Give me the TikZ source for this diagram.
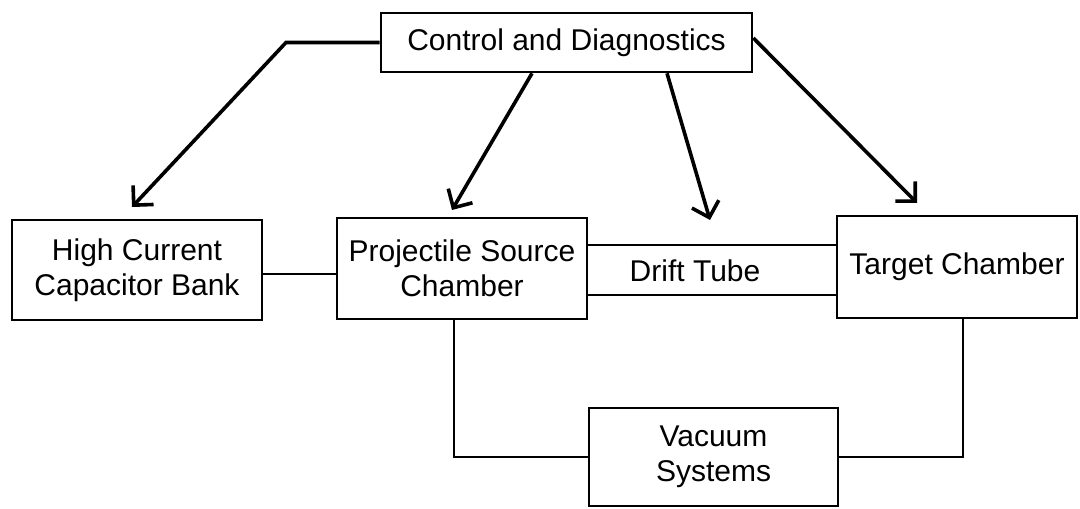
\documentclass[tikz,border=0pt]{standalone}
\usepackage{fontspec}
\setmainfont{Liberation Sans}
\usetikzlibrary{arrows.meta}
\begin{document}
\begin{tikzpicture}[x=0.5pt,y=-0.5pt,
  box/.style={draw, line width=1.3pt, inner sep=0pt, align=center, font=\fontsize{15}{17.5}\selectfont},
  lbl/.style={inner sep=0pt, font=\fontsize{15}{17.5}\selectfont},
  conn/.style={line width=1.3pt},
  arr/.style={line width=1.8pt, -{Straight Barb[length=7pt,width=14pt,line width=1.8pt]}}
]
\useasboundingbox (0,0) rectangle (1080,508);
% boxes
\node[box, minimum width=185.5pt, minimum height=29.5pt] (ctrl) at (566.5,42.5) {Control and Diagnostics};
\node[box, minimum width=125pt, minimum height=50pt] (cap) at (137,270) {High Current\\Capacitor Bank};
\node[box, minimum width=125pt, minimum height=50.5pt] (proj) at (462,268.5) {Projectile Source\\Chamber};
\node[box, minimum width=120pt, minimum height=51pt] (targ) at (957,267) {Target Chamber};
\node[box, minimum width=124.5pt, minimum height=49pt] (vac) at (713.5,457) {Vacuum\\Systems};
% helper coordinates
\coordinate (dtA) at (700,245);
\coordinate (dtB) at (700,295);
\coordinate (capy) at (300,274);
\coordinate (pv) at (454,0);
\coordinate (tv) at (963,0);
\coordinate (a1bend) at (286,44);
\coordinate (a1tip) at (132,207);
\coordinate (a2s) at (532,0);
\coordinate (a2tip) at (452,210);
\coordinate (a3s) at (667,0);
\coordinate (a3tip) at (710,220);
\coordinate (a4s) at (0,38);
\coordinate (a4tip) at (917,203);
% drift tube
\draw[conn] (proj.east |- dtA) -- (targ.west |- dtA);
\draw[conn] (proj.east |- dtB) -- (targ.west |- dtB);
\node[lbl] (dt) at (695,271) {Drift Tube};
% connections
\draw[conn] (cap.east |- capy) -- (proj.west |- capy);
\draw[conn] (proj.south -| pv) |- (vac.west);
\draw[conn] (targ.south -| tv) |- (vac.east);
% arrows
\draw[arr] (ctrl.west) -- (a1bend |- ctrl.west) -- (a1tip);
\draw[arr] (ctrl.south -| a2s) -- (a2tip);
\draw[arr] (ctrl.south -| a3s) -- (a3tip);
\draw[arr] (ctrl.east |- a4s) -- (a4tip);
\end{tikzpicture}
\end{document}
